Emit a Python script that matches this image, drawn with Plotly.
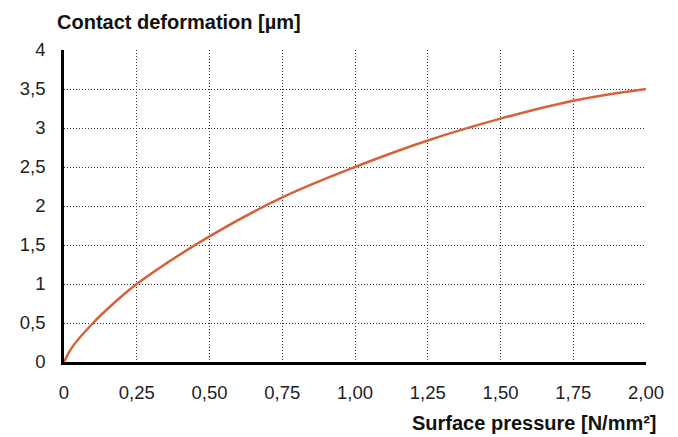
import plotly.graph_objects as go

# Data
pressure = [0, 0.03, 0.10, 0.17, 0.25, 0.50, 0.75, 1.00, 1.25, 1.50, 1.75, 2.00]
deformation = [0, 0.20, 0.50, 0.75, 1.00, 1.61, 2.11, 2.50, 2.84, 3.12, 3.35, 3.50]

x_tickvals = [0, 0.25, 0.5, 0.75, 1.0, 1.25, 1.5, 1.75, 2.0]
x_ticktext = ["0", "0,25", "0,50", "0,75", "1,00", "1,25", "1,50", "1,75", "2,00"]
y_tickvals = [0, 0.5, 1, 1.5, 2, 2.5, 3, 3.5, 4]
y_ticktext = ["0", "0,5", "1", "1,5", "2", "2,5", "3", "3,5", "4"]

FONT = "Liberation Sans, Arial, Helvetica, sans-serif"

fig = go.Figure()
fig.add_trace(go.Scatter(
    x=pressure, y=deformation, mode="lines",
    line=dict(color="#D8603A", width=2.5, shape="spline", smoothing=1.0),
    hoverinfo="skip", showlegend=False,
))

axis_common = dict(
    showgrid=True, gridcolor="#333333", gridwidth=1, griddash="1px,2px",
    showline=True, linecolor="black", linewidth=2.5, mirror=False,
    zeroline=False, ticks="", tickfont=dict(family=FONT, size=18.5, color="#222222"),
    ticklabelstandoff=12,
)

fig.update_xaxes(range=[0, 2.0], tickmode="array", tickvals=x_tickvals, ticktext=x_ticktext, **axis_common)
fig.update_yaxes(range=[0, 4.0], tickmode="array", tickvals=y_tickvals, ticktext=y_ticktext, **axis_common)

fig.add_annotation(
    text="<b>Contact deformation [µm]</b>", xref="paper", yref="paper",
    x=-0.0153, y=1.0897, xanchor="left", yanchor="middle", showarrow=False,
    font=dict(family=FONT, size=20, color="#111111"),
)
fig.add_annotation(
    text="<b>Surface pressure [N/mm²]</b>", xref="paper", yref="paper",
    x=1.0227, y=-0.1955, xanchor="right", yanchor="middle", showarrow=False,
    font=dict(family=FONT, size=20, color="#111111"),
)

# page body adds an 8px offset; size the figure so it fits the 678x437 window
fig.update_layout(
    width=670, height=429,
    margin=dict(l=51, r=32, t=42, b=75),
    paper_bgcolor="white", plot_bgcolor="white",
)

fig.write_html("out.html")
